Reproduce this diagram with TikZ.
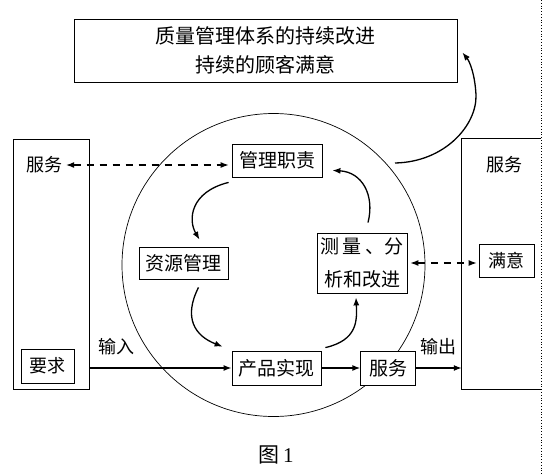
\documentclass[tikz,border=0pt]{standalone}
\usepackage{fontspec}
\setmainfont{Noto Sans CJK SC}
\newfontfamily\numfont{Liberation Serif}
\usetikzlibrary{arrows.meta}
\begin{document}
\begin{tikzpicture}[x=1pt,y=-1pt,
  box/.style={draw,fill=white,line width=0.8pt,inner sep=0pt,font=\fontsize{19}{23}\selectfont},
  lbl/.style={inner sep=0pt,font=\fontsize{18}{22}\selectfont},
  tip/.tip={Latex[length=8pt,width=6pt]},
  flow/.style={line width=1.4pt,-tip},
  curv/.style={line width=1.3pt,-tip},
  dashar/.style={line width=1.1pt,dash pattern=on 7pt off 6pt,tip-tip}]
\useasboundingbox (0,0) rectangle (542,475);
% circle
\node[circle,draw,line width=0.7pt,minimum size=303pt,inner sep=0pt] (circ) at (273.5,265) {};
% top box
\node[box,minimum width=383pt,minimum height=63pt,align=center,font=\fontsize{20}{29}\selectfont] (top) at (265.5,50.5) {质量管理体系的持续改进\\持续的顾客满意};
% left box
\node[draw,line width=0.8pt,minimum width=76.5pt,minimum height=250pt,inner sep=0pt] (lbox) at (51.25,264) {};
\node[lbl] (lsvc) at (45,165) {服务};
\node[box,minimum width=53pt,minimum height=34pt,font=\fontsize{18}{22}\selectfont] (req) at (47.5,366) {要求};
% right box
\node[minimum width=79pt,minimum height=250pt,inner sep=0pt] (rbox) at (501.5,264) {};
\draw[line width=0.8pt] (rbox.north east) -- (rbox.north west) -- (rbox.south west) -- (rbox.south east);
\draw[line width=0.8pt,dotted] (541,0) -- (541,475);
\node[lbl] (rsvc) at (504,165) {服务};
\node[box,minimum width=55pt,minimum height=33pt,font=\fontsize{18}{22}\selectfont] (sat) at (506.5,260.5) {满意};
% inner boxes
\node[box,minimum width=90pt,minimum height=33pt] (mgmt) at (277,160.5) {管理职责};
\node[box,minimum width=89pt,minimum height=32pt] (res) at (183.5,263) {资源管理};
\node[box,minimum width=90pt,minimum height=60pt,align=center,font=\fontsize{19}{33}\selectfont] (meas) at (362,263) {测\,量\,、分\\析和改进};
\node[box,minimum width=89pt,minimum height=34pt] (prod) at (276.5,368) {产品实现};
\node[box,minimum width=54.5pt,minimum height=34pt] (svc) at (388,368) {服务};
% labels
\node[lbl] (in) at (116,347) {输入};
\node[lbl] (out) at (438,347) {输出};
\node[inner sep=0pt,font=\fontsize{21}{25}\selectfont] (fig) at (276,455) {图\,{\numfont 1}};
% main flow
\draw[flow] (lbox.east |- prod.west) -- (prod.west);
\draw[flow] (prod.east) -- (svc.west);
\draw[flow] (svc.east) -- (svc.east -| rbox.west);
% dashed
\draw[dashar] ([xshift=3pt]lsvc.east) -- ([xshift=-3pt]lsvc.east -| mgmt.west);
\draw[dashar] ([xshift=3pt]meas.east) -- ([xshift=-2pt]meas.east -| sat.west);
% curves
\draw[curv] ([shift={(-3,5)}]mgmt.south west) .. controls (190,192) and (188,220) .. ([shift={(16,-7)}]res.north);
\draw[curv] ([shift={(15,8)}]res.south) .. controls (183,318) and (195,336) .. ([shift={(-9,-4)}]prod.north west);
\draw[curv] ([shift={(4,-3)}]prod.north east) .. controls (358,340) and (357,320) .. ([shift={(-6,4)}]meas.south);
\draw[curv] ([shift={(6,-10)}]meas.north) .. controls (375,195) and (362,172) .. ([shift={(10,-7)}]mgmt.south east);
\coordinate (cstart) at (395,163);
\draw[curv] (cstart) .. controls (445,162) and (477,125) .. (476,95) .. controls (475,75) and (470,62) .. ([shift={(5,2)}]top.east);
\end{tikzpicture}
\end{document}
